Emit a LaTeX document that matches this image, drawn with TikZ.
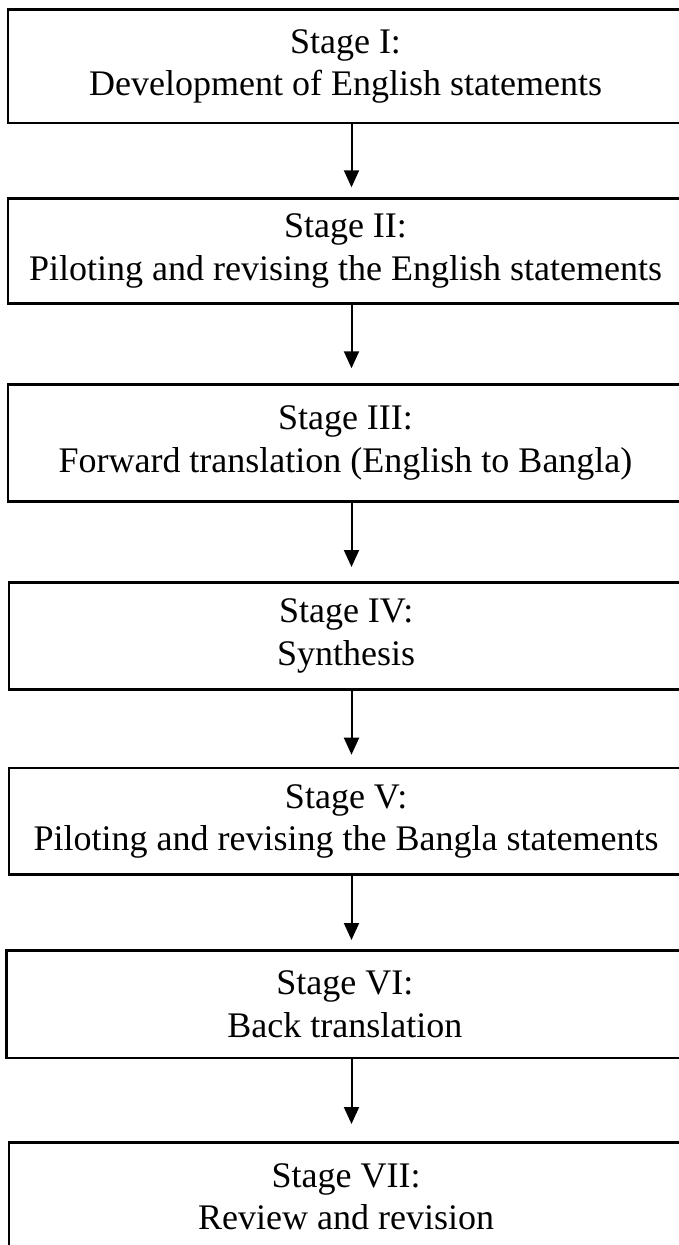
\documentclass[tikz,border=0pt]{standalone}
\usepackage{fontspec}
\setmainfont{Liberation Serif}
\usetikzlibrary{arrows.meta}
\begin{document}
\begin{tikzpicture}[x=1pt,y=-1pt,
  stagebox/.style={draw=black, line width=2.5pt, rectangle, inner sep=0pt,
    align=center, font=\fontsize{36}{42.5}\selectfont, anchor=north west},
  flow/.style={draw=black, line width=2pt, -{Triangle[length=17pt,width=15pt]}}]
\useasboundingbox (0,0) rectangle (678,1245);
\fill[white] (0,0) rectangle (678,1245);
\coordinate (ax) at (351.5,0);
\node[stagebox, minimum width=675.5pt, minimum height=113.4pt] (b1) at (6.5,8.3)
  {Stage I:\\Development of English statements};
\node[stagebox, minimum width=675.5pt, minimum height=105pt] (b2) at (6.5,197.3)
  {Stage II:\\Piloting and revising the English statements};
\node[stagebox, minimum width=675.5pt, minimum height=116.7pt] (b3) at (6.5,383.3)
  {Stage III:\\Forward translation (English to Bangla)};
\node[stagebox, minimum width=674.2pt, minimum height=107.3pt] (b4) at (7.8,581)
  {Stage IV:\\Synthesis};
\node[stagebox, minimum width=674.2pt, minimum height=106.6pt] (b5) at (7.8,766.7)
  {Stage V:\\Piloting and revising the Bangla statements};
\node[stagebox, minimum width=676.8pt, minimum height=107.7pt] (b6) at (5.2,949)
  {Stage VI:\\Back translation};
\node[stagebox, minimum width=674.2pt, minimum height=109pt] (b7) at (7.8,1141)
  {Stage VII:\\Review and revision};
\draw[flow, shorten >=10pt] (b1.south -| ax) -- (b2.north -| ax);
\draw[flow, shorten >=15pt] (b2.south -| ax) -- (b3.north -| ax);
\draw[flow, shorten >=14pt] (b3.south -| ax) -- (b4.north -| ax);
\draw[flow, shorten >=12pt] (b4.south -| ax) -- (b5.north -| ax);
\draw[flow, shorten >=9pt] (b5.south -| ax) -- (b6.north -| ax);
\draw[flow, shorten >=17pt] (b6.south -| ax) -- (b7.north -| ax);
\end{tikzpicture}
\end{document}
